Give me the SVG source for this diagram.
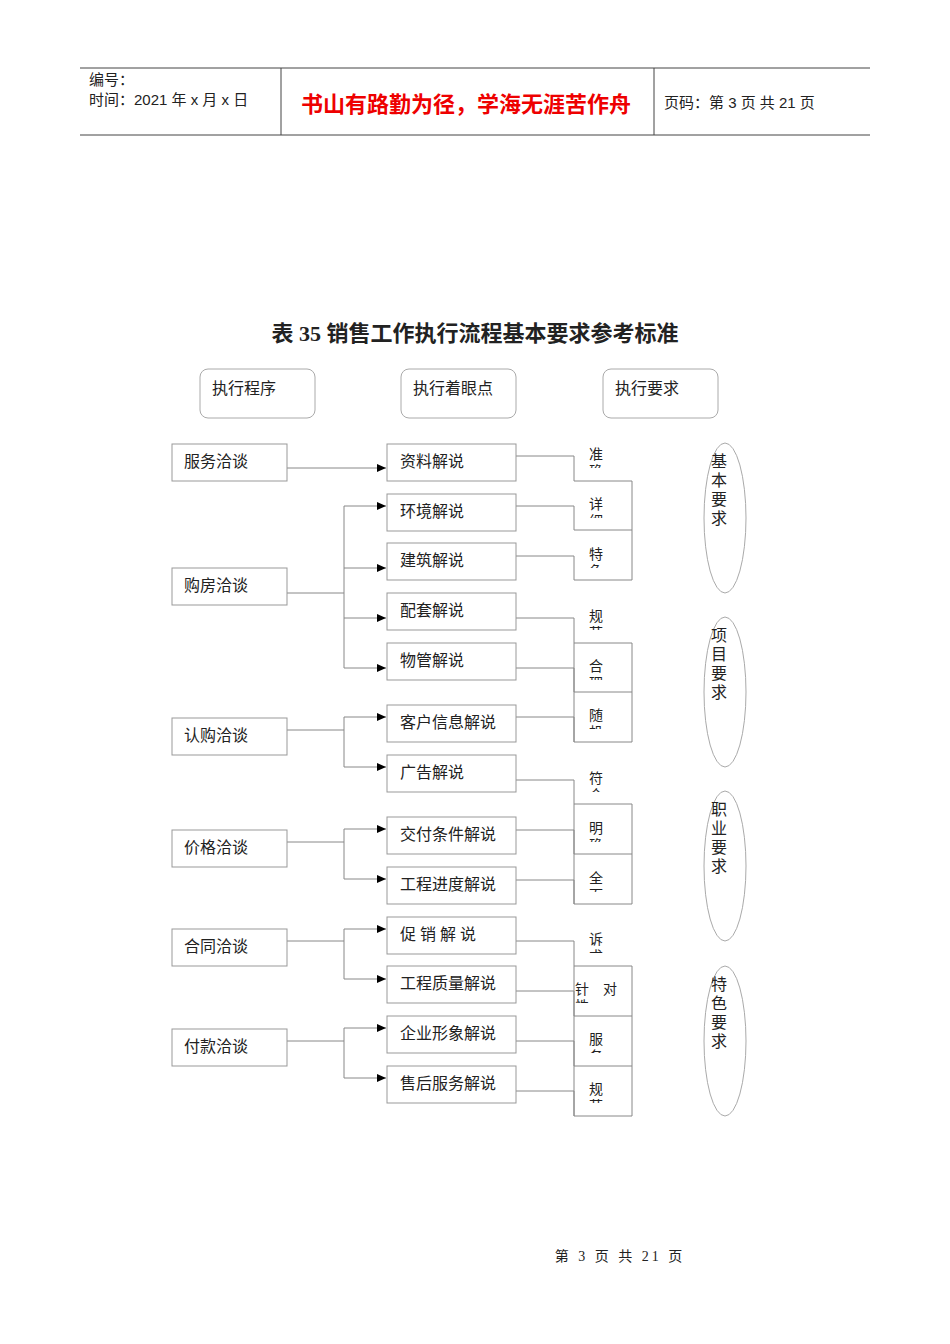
<svg xmlns="http://www.w3.org/2000/svg" width="950" height="1344" viewBox="0 0 950 1344">
<style>
text{font-family:"Liberation Serif","Noto Sans CJK SC",serif;font-size:16px;fill:#222}
.s{font-family:"Liberation Sans","Noto Sans CJK SC",sans-serif;font-size:15px}
.red{font-size:22px;fill:#e00;font-weight:bold}
.t{font-size:22px;font-weight:bold}
.r{font-size:14px}
.f{font-size:14px;letter-spacing:3px}
.b{fill:#fff;stroke:#999;stroke-width:1}
.l{fill:none;stroke:#888;stroke-width:1}
.e{fill:none;stroke:#aaa;stroke-width:1}
</style>
<defs><marker id="a" markerWidth="10" markerHeight="10" refX="9" refY="5" orient="auto" markerUnits="userSpaceOnUse"><path d="M0,1 L9,5 L0,9z" fill="#000"/></marker></defs>
<g id="header">
<path d="M80,68H870M80,135H870M281,68V135M654,68V135" stroke="#444" fill="none"/>
<text class="s" x="89" y="85">编号：</text>
<text class="s" x="89" y="105">时间：2021 年 x 月 x 日</text>
<text class="s red" x="301" y="112">书山有路勤为径，学海无涯苦作舟</text>
<text class="s" x="664" y="108">页码：第 3 页  共 21 页</text>
</g>
<text class="t" x="475" y="341" text-anchor="middle">表 35  销售工作执行流程基本要求参考标准</text>
<g id="h1"><rect class="e" x="200" y="369" width="115" height="49" rx="8"/><text x="212" y="394">执行程序</text></g>
<g id="h2"><rect class="e" x="401" y="369" width="115" height="49" rx="8"/><text x="413" y="394">执行着眼点</text></g>
<g id="h3"><rect class="e" x="603" y="369" width="115" height="49" rx="8"/><text x="615" y="394">执行要求</text></g>
<g id="connectors">
<path class="l" d="M287,468H386" marker-end="url(#a)"/>
<path class="l" d="M287,593H344M344,506V668"/>
<path class="l" d="M344,506H386" marker-end="url(#a)"/><path class="l" d="M344,568H386" marker-end="url(#a)"/><path class="l" d="M344,618H386" marker-end="url(#a)"/><path class="l" d="M344,668H386" marker-end="url(#a)"/>
<path class="l" d="M287,730H344M344,717V767"/>
<path class="l" d="M344,717H386" marker-end="url(#a)"/><path class="l" d="M344,767H386" marker-end="url(#a)"/>
<path class="l" d="M287,842H344M344,829V879"/>
<path class="l" d="M344,829H386" marker-end="url(#a)"/><path class="l" d="M344,879H386" marker-end="url(#a)"/>
<path class="l" d="M287,941H344M344,929V979"/>
<path class="l" d="M344,929H386" marker-end="url(#a)"/><path class="l" d="M344,979H386" marker-end="url(#a)"/>
<path class="l" d="M287,1041H344M344,1028V1078"/>
<path class="l" d="M344,1028H386" marker-end="url(#a)"/><path class="l" d="M344,1078H386" marker-end="url(#a)"/>
<path class="l" d="M516,456H574V481H632M516,506H574V530H632M516,556H574V580H632M632,481V580"/>
<path class="l" d="M516,618H574V643H632M516,668H574V692H632M516,717H574V742H632M632,643V742M574,643V742"/>
<path class="l" d="M516,780H574V804H632M516,830H574V854H632M516,880H574V904H632M632,804V904M574,804V904"/>
<path class="l" d="M516,941H574V966H632M516,991H574V1016H632M516,1041H574V1066H632M516,1091H574V1116H632M632,966V1116M574,966V1116"/>
</g>
<g id="left">
<g id="n1"><rect class="b" x="172" y="444" width="115" height="37"/><text x="184" y="467">服务洽谈</text></g>
<g id="n2"><rect class="b" x="172" y="568" width="115" height="37"/><text x="184" y="591">购房洽谈</text></g>
<g id="n3"><rect class="b" x="172" y="718" width="115" height="37"/><text x="184" y="741">认购洽谈</text></g>
<g id="n4"><rect class="b" x="172" y="830" width="115" height="37"/><text x="184" y="853">价格洽谈</text></g>
<g id="n5"><rect class="b" x="172" y="929" width="115" height="37"/><text x="184" y="952">合同洽谈</text></g>
<g id="n6"><rect class="b" x="172" y="1029" width="115" height="37"/><text x="184" y="1052">付款洽谈</text></g>
</g>
<g id="mid">
<g id="m1"><rect class="b" x="387" y="444" width="129" height="37"/><text x="400" y="467">资料解说</text></g>
<g id="m2"><rect class="b" x="387" y="494" width="129" height="37"/><text x="400" y="517">环境解说</text></g>
<g id="m3"><rect class="b" x="387" y="543" width="129" height="37"/><text x="400" y="566">建筑解说</text></g>
<g id="m4"><rect class="b" x="387" y="593" width="129" height="37"/><text x="400" y="616">配套解说</text></g>
<g id="m5"><rect class="b" x="387" y="643" width="129" height="37"/><text x="400" y="666">物管解说</text></g>
<g id="m6"><rect class="b" x="387" y="705" width="129" height="37"/><text x="400" y="728">客户信息解说</text></g>
<g id="m7"><rect class="b" x="387" y="755" width="129" height="37"/><text x="400" y="778">广告解说</text></g>
<g id="m8"><rect class="b" x="387" y="817" width="129" height="37"/><text x="400" y="840">交付条件解说</text></g>
<g id="m9"><rect class="b" x="387" y="867" width="129" height="37"/><text x="400" y="890">工程进度解说</text></g>
<g id="m10"><rect class="b" x="387" y="917" width="129" height="37"/><text x="400" y="940">促 销 解 说</text></g>
<g id="m11"><rect class="b" x="387" y="966" width="129" height="37"/><text x="400" y="989">工程质量解说</text></g>
<g id="m12"><rect class="b" x="387" y="1016" width="129" height="37"/><text x="400" y="1039">企业形象解说</text></g>
<g id="m13"><rect class="b" x="387" y="1066" width="129" height="37"/><text x="400" y="1089">售后服务解说</text></g>
</g>
<g id="right">
<defs>
<clipPath id="c1"><rect x="574" y="440" width="58" height="28"/></clipPath>
<clipPath id="c2"><rect x="574" y="490" width="58" height="28"/></clipPath>
<clipPath id="c3"><rect x="574" y="540" width="58" height="28"/></clipPath>
<clipPath id="c4"><rect x="574" y="602" width="58" height="28"/></clipPath>
<clipPath id="c5"><rect x="574" y="652" width="58" height="28"/></clipPath>
<clipPath id="c6"><rect x="574" y="701" width="58" height="28"/></clipPath>
<clipPath id="c7"><rect x="574" y="764" width="58" height="28"/></clipPath>
<clipPath id="c8"><rect x="574" y="814" width="58" height="28"/></clipPath>
<clipPath id="c9"><rect x="574" y="864" width="58" height="28"/></clipPath>
<clipPath id="c10"><rect x="574" y="925" width="58" height="28"/></clipPath>
<clipPath id="c11"><rect x="574" y="975" width="58" height="28"/></clipPath>
<clipPath id="c12"><rect x="574" y="1025" width="58" height="28"/></clipPath>
<clipPath id="c13"><rect x="574" y="1075" width="58" height="28"/></clipPath>
</defs>
<text class="r" clip-path="url(#c1)" x="589" y="459">准<tspan x="589" dy="17">确</tspan></text>
<text class="r" clip-path="url(#c2)" x="589" y="509">详<tspan x="589" dy="17">细</tspan></text>
<text class="r" clip-path="url(#c3)" x="589" y="559">特<tspan x="589" dy="17">色</tspan></text>
<text class="r" clip-path="url(#c4)" x="589" y="621">规<tspan x="589" dy="17">范</tspan></text>
<text class="r" clip-path="url(#c5)" x="589" y="671">合<tspan x="589" dy="17">理</tspan></text>
<text class="r" clip-path="url(#c6)" x="589" y="720">随<tspan x="589" dy="17">机</tspan></text>
<text class="r" clip-path="url(#c7)" x="589" y="783">符<tspan x="589" dy="17">合</tspan></text>
<text class="r" clip-path="url(#c8)" x="589" y="833">明<tspan x="589" dy="17">确</tspan></text>
<text class="r" clip-path="url(#c9)" x="589" y="883">全<tspan x="589" dy="17">面</tspan></text>
<text class="r" clip-path="url(#c10)" x="589" y="944">诉<tspan x="589" dy="17">求</tspan></text>
<text class="r" clip-path="url(#c11)" x="575" y="994">针　对<tspan x="575" dy="17">性</tspan></text>
<text class="r" clip-path="url(#c12)" x="589" y="1044">服<tspan x="589" dy="17">务</tspan></text>
<text class="r" clip-path="url(#c13)" x="589" y="1094">规<tspan x="589" dy="17">范</tspan></text>
</g>
<g id="e1"><ellipse class="e" cx="725" cy="518" rx="21" ry="75"/><text x="711" y="467">基<tspan x="711" dy="19">本</tspan><tspan x="711" dy="19">要</tspan><tspan x="711" dy="19">求</tspan></text></g>
<g id="e2"><ellipse class="e" cx="725" cy="692" rx="21" ry="75"/><text x="711" y="641">项<tspan x="711" dy="19">目</tspan><tspan x="711" dy="19">要</tspan><tspan x="711" dy="19">求</tspan></text></g>
<g id="e3"><ellipse class="e" cx="725" cy="866" rx="21" ry="75"/><text x="711" y="815">职<tspan x="711" dy="19">业</tspan><tspan x="711" dy="19">要</tspan><tspan x="711" dy="19">求</tspan></text></g>
<g id="e4"><ellipse class="e" cx="725" cy="1041" rx="21" ry="75"/><text x="711" y="990">特<tspan x="711" dy="19">色</tspan><tspan x="711" dy="19">要</tspan><tspan x="711" dy="19">求</tspan></text></g>
<text class="f" x="620" y="1261" text-anchor="middle">第 3 页 共 21 页</text>
</svg>
